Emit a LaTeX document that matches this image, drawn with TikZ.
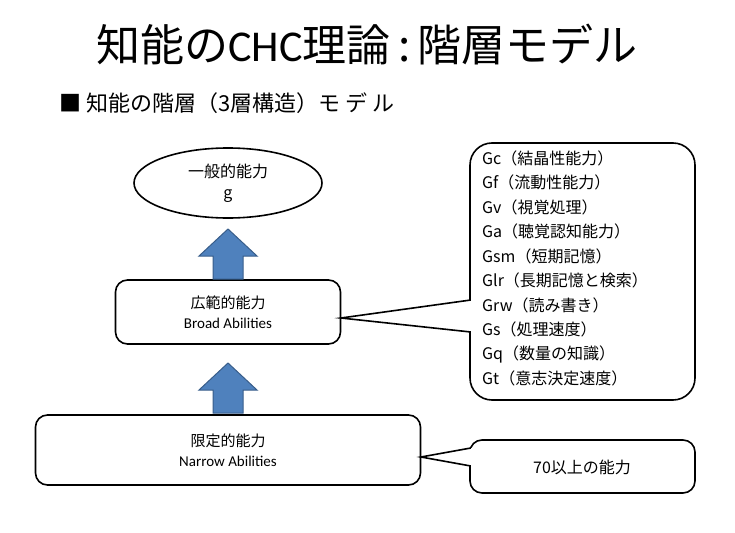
\documentclass[tikz,border=0pt]{standalone}
\usepackage{fontspec}
\setmainfont{Noto Sans CJK JP}
\newfontfamily\latin{Carlito}
\usetikzlibrary{shapes.geometric}
\definecolor{arrblue}{HTML}{4F81BD}
\definecolor{arrline}{HTML}{385D8A}
\tikzset{
 box/.style={draw=black,line width=1.6pt,rounded corners=12pt,align=center,font=\fontsize{15}{20}\selectfont},
 uparr/.style={fill=arrblue,draw=arrline,line width=1pt},
 item/.style={anchor=west,font=\fontsize{16}{18}\selectfont,inner sep=0pt}
}
\begin{document}
\begin{tikzpicture}[x=1pt,y=-1pt]
\useasboundingbox (0,0) rectangle (735,532);
\node (title) at (367,45) {\fontsize{44}{48}\selectfont 知能の{\latin CHC}理論\,:\,階層モデル};
\node[anchor=west] (sub) at (56,103) {\fontsize{22}{26}\selectfont ■ 知能の階層（3層構造）モ デ ル};
\node[draw,line width=1.6pt,ellipse,minimum width=188pt,minimum height=70pt,align=center,font=\fontsize{16}{21}\selectfont] (g) at (228,183) {一般的能力\\g};
\node[box,minimum width=225pt,minimum height=64pt] (broad) at (228,312) {広範的能力\\{\latin Broad Abilities}};
\node[box,minimum width=385pt,minimum height=70pt] (narrow) at (228,450) {限定的能力\\{\latin Narrow Abilities}};
\draw[uparr] (213,279) -- (213,256) -- (199,256) -- (228,229) -- (257,256) -- (243,256) -- (243,279) -- cycle;
\draw[uparr] (213,413) -- (213,390) -- (199,390) -- (228,363) -- (257,390) -- (243,390) -- (243,413) -- cycle;
% big callout
\draw[line width=1.6pt,rounded corners=22pt] (470,143) rectangle (695,400);
\fill[white] (468,300) rectangle (474,332);
\coordinate (tip1) at (341,318);
\draw[line width=1.6pt] (470.8,300) -- (tip1) -- (470.8,332);
% small callout
\draw[line width=1.6pt,rounded corners=12pt] (470,440) rectangle (695,493);
\fill[white] (468,448) rectangle (474,466);
\coordinate (tip2) at (421,457);
\draw[line width=1.6pt] (470.8,448) -- (tip2) -- (470.8,466);
\node[font=\fontsize{16}{18}\selectfont] (n70) at (582,467) {70以上の能力};
\node[item] (i1) at (482,158) {Gc（結晶性能力）};
\node[item] (i2) at (482,182.5) {Gf（流動性能力）};
\node[item] (i3) at (482,207) {Gv（視覚処理）};
\node[item] (i4) at (482,231.5) {Ga（聴覚認知能力）};
\node[item] (i5) at (482,256) {Gsm（短期記憶）};
\node[item] (i6) at (482,280.5) {Glr（長期記憶と検索）};
\node[item] (i7) at (482,305) {Grw（読み書き）};
\node[item] (i8) at (482,329.5) {Gs（処理速度）};
\node[item] (i9) at (482,354) {Gq（数量の知識）};
\node[item] (i10) at (482,378.5) {Gt（意志決定速度）};
\end{tikzpicture}
\end{document}
